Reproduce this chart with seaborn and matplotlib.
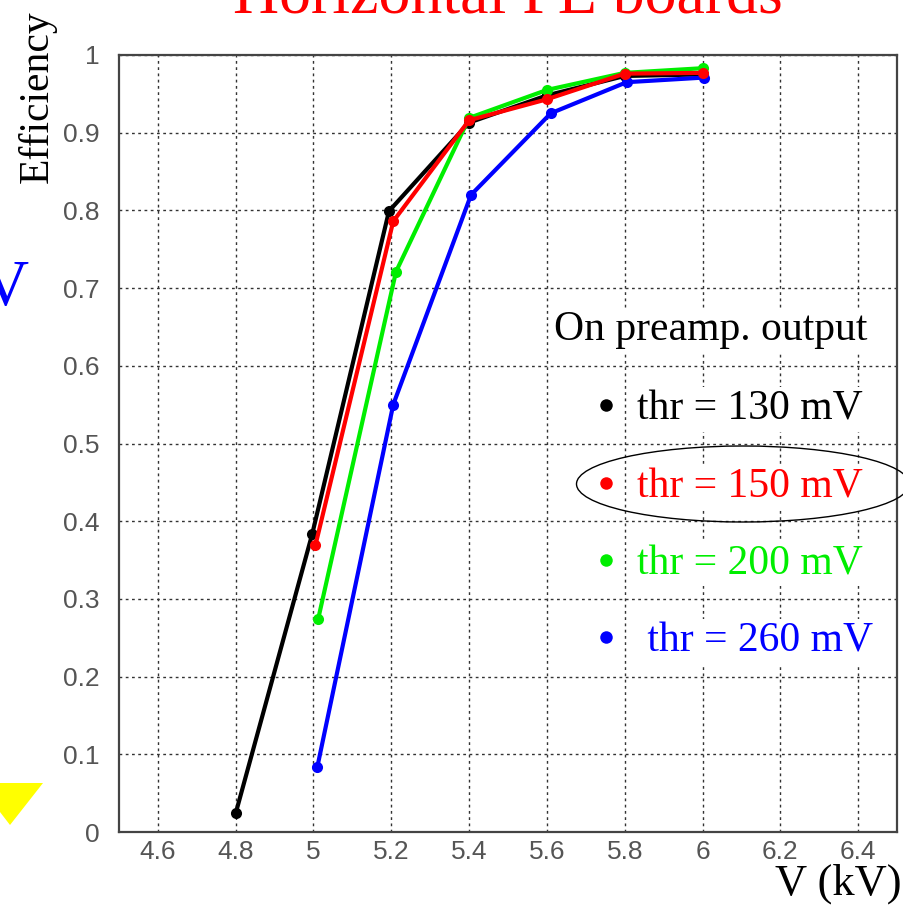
import numpy as np
import pandas as pd
import matplotlib
matplotlib.use('Agg')
import matplotlib.pyplot as plt
import seaborn as sns
from matplotlib.lines import Line2D
from matplotlib.patches import Ellipse, Polygon
from matplotlib.ticker import MultipleLocator

# efficiency vs high voltage, one curve per threshold
v_130 = [4.8, 4.997, 5.194, 5.4, 5.6, 5.8, 6.0]
eff_130 = [0.024, 0.384, 0.799, 0.913, 0.948, 0.973, 0.975]

v_150 = [5.005, 5.205, 5.4, 5.6, 5.8, 6.0]
eff_150 = [0.369, 0.786, 0.916, 0.943, 0.976, 0.977]

v_200 = [5.012, 5.212, 5.4, 5.6, 5.8, 6.0]
eff_200 = [0.274, 0.721, 0.919, 0.955, 0.977, 0.983]

v_260 = [5.01, 5.205, 5.405, 5.61, 5.805, 6.005]
eff_260 = [0.084, 0.550, 0.820, 0.925, 0.965, 0.971]

thr_labels = ['thr = 130 mV', 'thr = 150 mV', 'thr = 200 mV', ' thr = 260 mV']
thr_colors = ['black', 'red', '#00ee00', 'blue']

frames = []
for lab, vv, ee in zip(thr_labels, [v_130, v_150, v_200, v_260],
                       [eff_130, eff_150, eff_200, eff_260]):
    frames.append(pd.DataFrame({'V': vv, 'eff': ee, 'thr': lab}))
df = pd.concat(frames, ignore_index=True)

sns.set_style('white')
plt.rcParams['font.family'] = ['DejaVu Sans']
plt.rcParams['text.color'] = 'black'

fig = plt.figure(figsize=(9.04, 9.09), dpi=100)
ax = fig.add_axes([0.1316, 0.0847, 0.8607, 0.8548])

pal = dict(zip(thr_labels, thr_colors))
draw_order = [thr_labels[0], thr_labels[3], thr_labels[2], thr_labels[1]]
sns.lineplot(data=df, x='V', y='eff', hue='thr', hue_order=draw_order,
             palette=pal, marker='o', markersize=8, markeredgewidth=0,
             linewidth=3, sort=True, estimator=None, legend=False, ax=ax)

ax.set_xlim(4.5, 6.5)
ax.set_ylim(0, 1)
ax.xaxis.set_minor_locator(MultipleLocator(0.05))
ax.yaxis.set_minor_locator(MultipleLocator(0.02))
ax.set_xticks(np.arange(4.6, 6.41, 0.2))
ax.set_xticklabels(['4.6', '4.8', '5', '5.2', '5.4', '5.6', '5.8', '6', '6.2', '6.4'])
ax.set_yticks(np.arange(0, 1.01, 0.1))
ax.set_yticklabels(['0', '0.1', '0.2', '0.3', '0.4', '0.5', '0.6', '0.7', '0.8', '0.9', '1'])

ax.grid(True, which='major', color='#333333', linestyle=(0, (2, 2.5)), linewidth=1.0)
ax.set_axisbelow(True)
for s in ax.spines.values():
    s.set_color('#444444')
    s.set_linewidth(1.6)

ax.tick_params(which='both', direction='in', color='#444444', width=1.4,
               top=False, right=False, labelcolor='#555555')
ax.tick_params(which='major', length=11)
ax.tick_params(which='minor', length=6)
ax.tick_params(axis='x', which='major', pad=6, labelsize=19)
ax.tick_params(axis='y', which='major', pad=14, labelsize=19)
for lab in ax.get_xticklabels() + ax.get_yticklabels():
    lab.set_fontfamily('Liberation Sans')

serif = ['Liberation Serif', 'DejaVu Serif']
ax.set_ylabel('Efficiency', fontsize=30, family=serif, color='black')
ax.yaxis.set_label_coords(-0.080, 0.946)
ax.set_xlabel('V (kV)', fontsize=32, family=serif, color='black', ha='right')
ax.xaxis.set_label_coords(1.006, -0.040)

fig.text(508 / 904, 1 - 14 / 909, 'Horizontal FE boards', color='red',
         fontsize=46, family=serif, ha='center', va='baseline')
fig.text(28 / 904, 1 - 305 / 909, 'V', color='blue', fontsize=47,
         family=serif, ha='right', va='baseline')

# legend: title as its own text, entries as a legend
ax.text(0.760, 0.646, 'On preamp. output', transform=ax.transAxes,
        fontsize=30, family=serif, color='black', ha='center', va='center',
        bbox=dict(facecolor='white', edgecolor='none', pad=2))
handles = [Line2D([], [], linestyle='none', marker='o', markersize=9,
                  markeredgewidth=0, color=c) for c in thr_colors]
leg = ax.legend(handles, thr_labels,
                loc='lower right', bbox_to_anchor=(1.007, 0.183),
                frameon=False, prop={'family': serif, 'size': 30},
                handlelength=0.5, handletextpad=0.5, labelspacing=0.93,
                borderpad=0.2)
for t, c in zip(leg.get_texts(), thr_colors):
    t.set_color(c)
    t.set_bbox(dict(facecolor='white', edgecolor='none', pad=2))

ell = Ellipse((743 / 904, 1 - 484 / 909), 333 / 904, 76 / 909,
              transform=fig.transFigure, fill=False, edgecolor='black',
              linewidth=1.0)
fig.add_artist(ell)

arrow = Polygon([(0, 1 - 783 / 909), (43 / 904, 1 - 783 / 909),
                 (10 / 904, 1 - 825 / 909), (0, 1 - 812 / 909)],
                closed=True, transform=fig.transFigure, facecolor='#ffff00',
                edgecolor='none')
fig.add_artist(arrow)

fig.savefig('out.png', dpi=100, facecolor='white')
